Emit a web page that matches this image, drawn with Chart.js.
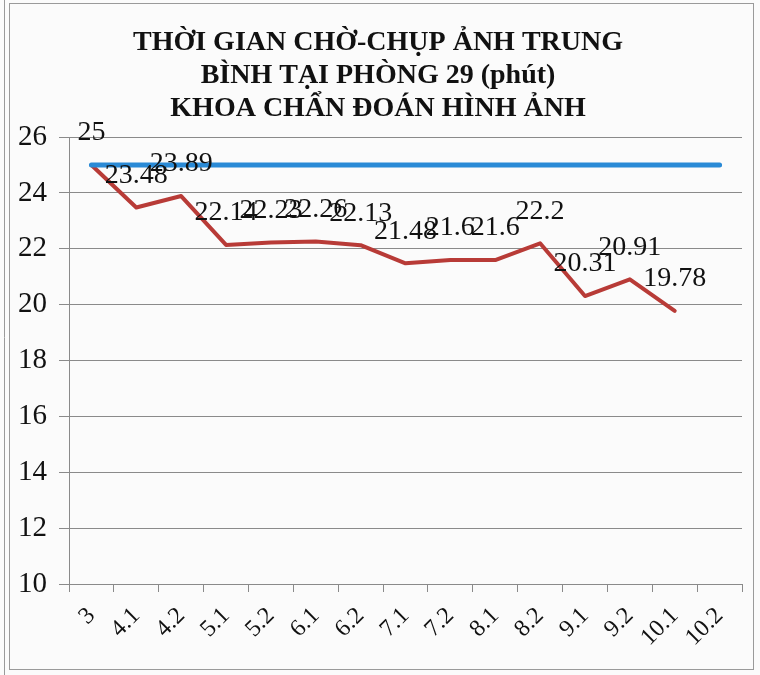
<!DOCTYPE html>
<html>
<head>
<meta charset="utf-8">
<script src="https://cdn.jsdelivr.net/npm/chart.js@4/dist/chart.umd.min.js"></script>
<style>
html,body{margin:0;padding:0;background:#fbfbfb;}
#wrap{position:relative;width:760px;height:675px;}
</style>
</head>
<body>
<div id="wrap"><canvas id="c" width="760" height="675"></canvas></div>
<script>
const categories = ["3","4.1","4.2","5.1","5.2","6.1","6.2","7.1","7.2","8.1","8.2","9.1","9.2","10.1","10.2"];
const targetValues = [25,25,25,25,25,25,25,25,25,25,25,25,25,25,25];
const waitValues = [25,23.48,23.89,22.14,22.23,22.26,22.13,21.48,21.6,21.6,22.2,20.31,20.91,19.78];
const titleLines = ["THỜI GIAN CHỜ-CHỤP ẢNH TRUNG","BÌNH TẠI PHÒNG 29 (phút)","KHOA CHẨN ĐOÁN HÌNH ẢNH"];
const yMin = 10, yMax = 26, yStep = 2;

const serif = "'Liberation Serif','Times New Roman',serif";

const frame = {
  id:'frame',
  beforeDraw(chart){
    const ctx = chart.ctx;
    ctx.save();
    ctx.fillStyle = '#fbfbfb';
    ctx.fillRect(0,0,chart.width,chart.height);
    ctx.strokeStyle = '#9a9a9a';
    ctx.lineWidth = 1;
    ctx.beginPath();
    ctx.moveTo(4.5,0); ctx.lineTo(4.5,675);
    ctx.stroke();
    ctx.strokeRect(9.5,3.5,744,666);
    ctx.restore();
  }
};

const labels = {
  id:'valueLabels',
  afterDatasetsDraw(chart){
    const ctx = chart.ctx;
    const meta = chart.getDatasetMeta(1);
    const ds = chart.data.datasets[1];
    ctx.save();
    ctx.font = "28px " + serif;
    ctx.fillStyle = '#111';
    ctx.textAlign = 'center';
    ctx.textBaseline = 'middle';
    meta.data.forEach((pt,i)=>{
      const v = ds.data[i];
      if (v == null) return;
      ctx.fillText(String(v), pt.x, pt.y - 32);
    });
    ctx.restore();
  }
};

new Chart(document.getElementById('c'), {
  type:'line',
  data:{
    labels: categories,
    datasets:[
      {label:'Mục tiêu', data: targetValues, borderColor:'#2a8ad6', borderWidth:5, pointRadius:0, tension:0, borderCapStyle:'round'},
      {label:'Thời gian chờ', data: waitValues, borderColor:'#b83b37', borderWidth:4, pointRadius:0, tension:0, borderCapStyle:'round', borderJoinStyle:'round'}
    ]
  },
  options:{
    responsive:false,
    animation:false,
    devicePixelRatio:1,
    layout:{padding:{left:14,right:18,top:0,bottom:11}},
    plugins:{
      legend:{display:false},
      tooltip:{enabled:false},
      title:{
        display:true,
        text:titleLines,
        color:'#111',
        font:{family:serif, size:28, weight:'bold', lineHeight:1.18},
        padding:{top:26,bottom:12}
      }
    },
    scales:{
      x:{
        offset:true,
        grid:{offset:true, drawOnChartArea:false, drawTicks:true, tickLength:8, color:'#8a8a8a'},
        border:{color:'#8a8a8a', width:1},
        ticks:{color:'#111', font:{family:serif, size:24}, maxRotation:45, minRotation:45, autoSkip:false, padding:10},
        afterFit(s){ s.height = 80; }
      },
      y:{
        min:yMin, max:yMax,
        grid:{color:'#8a8a8a', tickLength:10, drawTicks:true},
        border:{color:'#8a8a8a', width:1},
        ticks:{stepSize:yStep, color:'#111', font:{family:serif, size:29}, padding:12},
        afterFit(s){ s.width = 55; }
      }
    }
  },
  plugins:[frame, labels]
});
</script>
</body>
</html>
